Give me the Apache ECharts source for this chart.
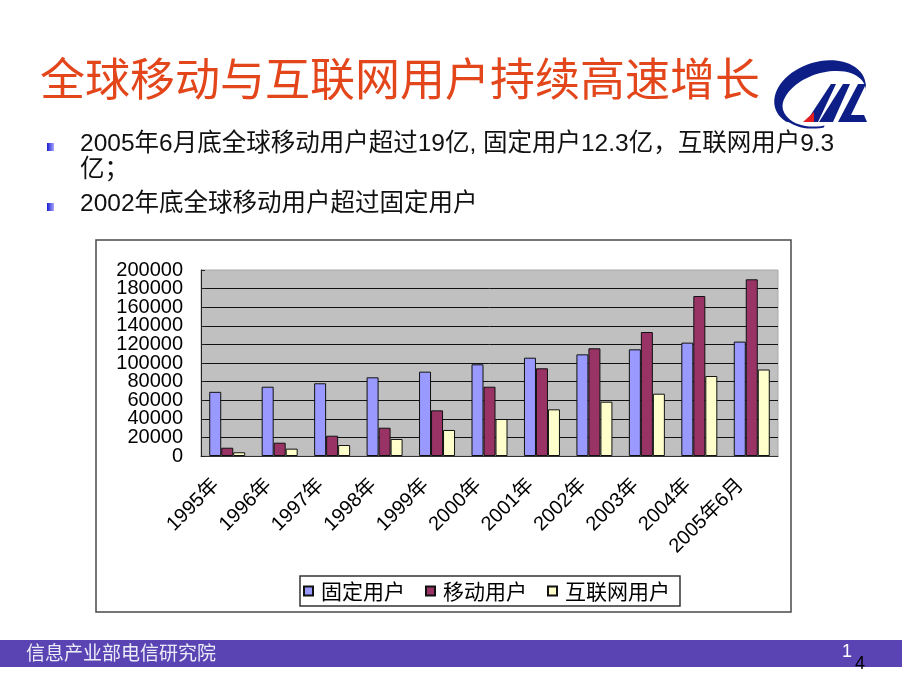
<!DOCTYPE html>
<html>
<head>
<meta charset="utf-8">
<script src="https://cdn.jsdelivr.net/npm/echarts@6/dist/echarts.min.js"></script>
<style>
  html, body { margin: 0; padding: 0; background: #fff; }
  #slide { width: 920px; height: 690px; }
</style>
</head>
<body>
<div id="slide"></div>
<script>
// 年份（类目）
var categories = ['1995年', '1996年', '1997年', '1998年', '1999年', '2000年',
  '2001年', '2002年', '2003年', '2004年', '2005年6月'];
var seriesNames = ['固定用户', '移动用户', '互联网用户'];
// 单位：万户
var fixedUsers = [69000, 74500, 78200, 84600, 90700, 98600, 105700, 109300, 114700, 121900, 123000];
var mobileUsers = [8900, 14300, 21800, 30400, 49100, 74500, 94300, 115800, 133300, 172000, 190000];
var netUsers = [4000, 7900, 11800, 18300, 28000, 39800, 50200, 58400, 67000, 86000, 93000];
var yTicks = { min: 0, max: 200000, step: 20000 };

var latin = 'Liberation Sans, Noto Sans CJK SC, sans-serif';
var cjk = 'Noto Sans CJK SC, sans-serif';

// logo 的椭圆弧，只是装饰
function ellipsePts(cx, cy, rx, ry, rot, a0, a1, n) {
  var pts = [];
  var r = rot * Math.PI / 180;
  for (var i = 0; i <= n; i++) {
    var t = (a0 + (a1 - a0) * i / n) * Math.PI / 180;
    var x = rx * Math.cos(t), y = ry * Math.sin(t);
    pts.push([cx + x * Math.cos(r) - y * Math.sin(r), cy + x * Math.sin(r) + y * Math.cos(r)]);
  }
  return pts;
}
var swooshOuter = ellipsePts(820, 94, 47, 32, -18, 150, 372, 40);
var swooshInner = ellipsePts(824, 99, 43, 26, -18, 150, 372, 40).reverse();
var swoosh2Outer = ellipsePts(822, 97, 44, 30, -18, 100, 210, 20);
var swoosh2Inner = ellipsePts(823, 97, 42, 28, -18, 100, 210, 20).reverse();

function bulletSquare(x, y) {
  return {
    type: 'rect',
    shape: { x: x, y: y, width: 7, height: 8 },
    style: {
      fill: new echarts.graphic.LinearGradient(0, 0, 1, 0, [
        { offset: 0, color: '#1a1ad0' },
        { offset: 1, color: '#a8a8ff' }
      ])
    }
  };
}

// 刻度标签字号大、会互相重叠，拆到两根重合的 y 轴上各显示一半
function yLabel(oddOnes) {
  return {
    margin: 18,
    fontSize: 20,
    fontFamily: latin,
    color: '#000',
    showMinLabel: true,
    showMaxLabel: true,
    formatter: function (v) {
      var odd = Math.round(v / yTicks.step) % 2 === 1;
      return odd === oddOnes ? String(v) : '';
    }
  };
}

var myChart = echarts.init(document.getElementById('slide'));

var option = {
  backgroundColor: '#ffffff',
  animation: false,
  graphic: [
    // 图表外框
    {
      type: 'rect', z: -5,
      shape: { x: 96, y: 240, width: 695, height: 372 },
      style: { fill: '#fff', stroke: '#4a4a4a', lineWidth: 1.5 }
    },
    // 标题
    {
      type: 'text', left: 40, top: 56,
      style: { text: '全球移动与互联网用户持续高速增长', fill: '#e3461b', font: '45px ' + cjk }
    },
    bulletSquare(47, 143),
    {
      type: 'text', left: 80, top: 132,
      style: { text: '2005年6月底全球移动用户超过19亿, 固定用户12.3亿，互联网用户9.3', fill: '#111', font: '24.5px ' + latin }
    },
    {
      type: 'text', left: 80, top: 158,
      style: { text: '亿；', fill: '#111', font: '24.5px ' + latin }
    },
    bulletSquare(47, 203),
    {
      type: 'text', left: 80, top: 192,
      style: { text: '2002年底全球移动用户超过固定用户', fill: '#111', font: '24.5px ' + latin }
    },
    // logo
    { type: 'polygon', shape: { points: swooshOuter.concat(swooshInner) }, style: { fill: '#0d1f86' } },
    { type: 'polygon', shape: { points: swoosh2Outer.concat(swoosh2Inner) }, style: { fill: '#0d1f86' } },
    { type: 'polygon', shape: { points: [[806, 122], [818, 122], [836, 84], [831, 84]] }, style: { fill: '#0d1f86' } },
    { type: 'polygon', shape: { points: [[819, 122], [833, 122], [850, 84], [843, 84]] }, style: { fill: '#0d1f86' } },
    { type: 'polygon', shape: { points: [[838, 122], [867, 122], [864, 115], [851, 115], [866, 84], [858, 84]] }, style: { fill: '#0d1f86' } },
    { type: 'polygon', shape: { points: [[803, 122], [814, 122], [814, 112]] }, style: { fill: '#e02020' } },
    // 页脚
    {
      type: 'rect',
      shape: { x: 0, y: 640, width: 902, height: 27 },
      style: { fill: '#5a44b4' }
    },
    {
      type: 'text', left: 26, top: 643,
      style: { text: '信息产业部电信研究院', fill: '#ececf8', font: '19px ' + cjk }
    },
    {
      type: 'text', left: 842, top: 643,
      style: { text: '1', fill: '#ffffff', font: '18px ' + latin }
    },
    {
      type: 'text', left: 855, top: 655,
      style: { text: '4', fill: '#000000', font: '18px ' + latin }
    }
  ],
  legend: {
    left: 300,
    top: 576,
    data: seriesNames,
    icon: 'rect',
    itemWidth: 9,
    itemHeight: 9,
    itemGap: 20,
    padding: [4, 10, 4, 3],
    borderColor: '#333',
    borderWidth: 1.5,
    backgroundColor: '#fff',
    textStyle: { fontSize: 21, fontFamily: cjk, color: '#000', padding: [0, 0, 0, 3], lineHeight: 22 }
  },
  grid: {
    left: 201,
    top: 270,
    width: 577,
    height: 186,
    show: true,
    backgroundColor: '#c0c0c0',
    borderColor: '#a8a8a8',
    borderWidth: 1
  },
  xAxis: {
    type: 'category',
    data: categories,
    axisLine: { lineStyle: { color: '#333', width: 1 } },
    axisTick: { inside: true, length: 7, lineStyle: { color: '#222' } },
    axisLabel: {
      rotate: 45,
      interval: 0,
      margin: 15,
      padding: [0, 16, 0, 0],
      fontSize: 20,
      fontFamily: latin,
      color: '#000'
    }
  },
  yAxis: [
    {
      type: 'value',
      position: 'left',
      min: yTicks.min,
      max: yTicks.max,
      interval: yTicks.step,
      axisLine: { show: true, lineStyle: { color: '#222', width: 1 } },
      axisTick: { show: true, inside: true, length: 4, lineStyle: { color: '#222' } },
      splitLine: { show: true, showMaxLine: false, lineStyle: { color: '#111', width: 1 } },
      axisLabel: yLabel(false)
    },
    {
      type: 'value',
      position: 'left',
      offset: 0,
      min: yTicks.min,
      max: yTicks.max,
      interval: yTicks.step,
      axisLine: { show: false },
      axisTick: { show: false },
      splitLine: { show: false },
      axisLabel: yLabel(true)
    }
  ],
  series: [
    {
      name: seriesNames[0], type: 'bar', data: fixedUsers,
      barWidth: 12, barGap: '0%',
      itemStyle: { color: '#9999ff', borderColor: '#111', borderWidth: 1 }
    },
    {
      name: seriesNames[1], type: 'bar', data: mobileUsers,
      barWidth: 12, barGap: '0%',
      itemStyle: { color: '#993366', borderColor: '#111', borderWidth: 1 }
    },
    {
      name: seriesNames[2], type: 'bar', data: netUsers,
      barWidth: 12, barGap: '0%',
      itemStyle: { color: '#ffffcc', borderColor: '#111', borderWidth: 1 }
    }
  ]
};

myChart.setOption(option);
</script>
</body>
</html>
